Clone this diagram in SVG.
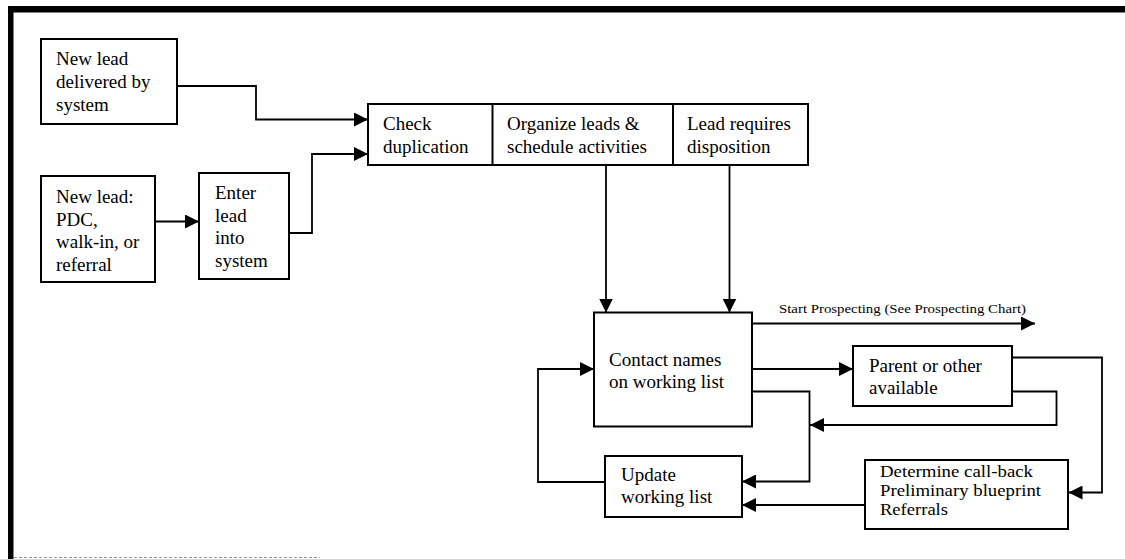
<svg xmlns="http://www.w3.org/2000/svg" width="1125" height="559" viewBox="0 0 1125 559">
  <style>
    .box { fill: #ffffff; stroke: #000000; stroke-width: 2; }
    .div { stroke: #000000; stroke-width: 2; }
    .lbl { font-family: "Liberation Serif", "Times New Roman", serif; font-size: 19px; fill: #000000; }
    .tight { font-family: "Liberation Serif", "Times New Roman", serif; font-size: 17px; fill: #000000; }
    .small { font-family: "Liberation Serif", "Times New Roman", serif; font-size: 13.5px; fill: #000000; }
    .conn { fill: none; stroke: #000000; stroke-width: 1.8; marker-end: url(#arrow); }
  </style>
  <defs>
    <marker id="arrow" markerUnits="userSpaceOnUse" markerWidth="14" markerHeight="14" refX="14" refY="7" orient="auto" viewBox="0 0 14 14">
      <path d="M0,0 L14,7 L0,14 Z" fill="#000000"/>
    </marker>
  </defs>

  <rect width="1125" height="559" fill="#ffffff"/>

  <!-- page frame -->
  <g id="frame">
    <rect x="8" y="6" width="1117" height="6.5" fill="#000000"/>
    <rect x="8" y="6" width="5.5" height="553" fill="#000000"/>
    <line x1="14" y1="557.5" x2="320" y2="557.5" stroke="#9a9a9a" stroke-width="1" stroke-dasharray="3 2"/>
  </g>

  <!-- connectors -->
  <g id="connectors">
    <path class="conn" d="M177,86 H256 V119.5 H368"/>
    <path class="conn" d="M289,233 H312 V154 H368"/>
    <path class="conn" d="M155,221.5 H199"/>
    <path class="conn" d="M606,165 V312.5"/>
    <path class="conn" d="M729.5,165 V312.5"/>
    <path class="conn" d="M752,323.5 H1035"/>
    <path class="conn" d="M752,369 H853"/>
    <path class="conn" d="M1011.5,357.5 H1102 V492.5 H1068.5"/>
    <path class="conn" d="M1011.5,391.5 H1056.5 V425 H810"/>
    <path class="conn" d="M752,391.5 H809.5 V481.5 H742"/>
    <path class="conn" d="M865,505 H742"/>
    <path class="conn" d="M605,482 H538 V369 H594"/>
    <text class="small" x="779" y="312.5" textLength="247" lengthAdjust="spacingAndGlyphs">Start Prospecting (See Prospecting Chart)</text>
  </g>

  <g id="node-new-lead-system">
    <rect class="box" x="41" y="39" width="136" height="85"/>
    <text class="lbl" x="56" y="65">New lead</text>
    <text class="lbl" x="56" y="88">delivered by</text>
    <text class="lbl" x="56" y="111">system</text>
  </g>

  <g id="node-new-lead-manual">
    <rect class="box" x="41" y="176" width="114" height="106"/>
    <text class="lbl" x="56" y="203">New lead:</text>
    <text class="lbl" x="56" y="225.5">PDC,</text>
    <text class="lbl" x="56" y="248">walk-in, or</text>
    <text class="lbl" x="56" y="270.5">referral</text>
  </g>

  <g id="node-enter-lead">
    <rect class="box" x="199" y="173" width="90" height="106"/>
    <text class="lbl" x="215" y="199">Enter</text>
    <text class="lbl" x="215" y="221.5">lead</text>
    <text class="lbl" x="215" y="244">into</text>
    <text class="lbl" x="215" y="266.5">system</text>
  </g>

  <g id="node-processing-row">
    <rect class="box" x="368" y="104" width="440" height="61"/>
    <line class="div" x1="492.5" y1="104" x2="492.5" y2="165"/>
    <line class="div" x1="673" y1="104" x2="673" y2="165"/>
    <text class="lbl" x="383" y="130">Check</text>
    <text class="lbl" x="383" y="152.5">duplication</text>
    <text class="lbl" x="507" y="130">Organize leads &amp;</text>
    <text class="lbl" x="507" y="152.5">schedule activities</text>
    <text class="lbl" x="687" y="130">Lead requires</text>
    <text class="lbl" x="687" y="152.5">disposition</text>
  </g>

  <g id="node-contact-names">
    <rect class="box" x="594" y="312.5" width="158" height="114"/>
    <text class="lbl" x="609" y="366">Contact names</text>
    <text class="lbl" x="609" y="388">on working list</text>
  </g>

  <g id="node-parent-available">
    <rect class="box" x="853" y="346" width="159" height="60"/>
    <text class="lbl" x="869" y="371.5">Parent or other</text>
    <text class="lbl" x="869" y="393.5">available</text>
  </g>

  <g id="node-update-list">
    <rect class="box" x="605" y="456" width="137" height="61"/>
    <text class="lbl" x="621" y="480.5">Update</text>
    <text class="lbl" x="621" y="503">working list</text>
  </g>

  <g id="node-determine">
    <rect class="box" x="865" y="460" width="203" height="69"/>
    <text class="tight" x="880" y="477" textLength="153" lengthAdjust="spacingAndGlyphs">Determine call-back</text>
    <text class="tight" x="880" y="496" textLength="161" lengthAdjust="spacingAndGlyphs">Preliminary blueprint</text>
    <text class="tight" x="880" y="515" textLength="68" lengthAdjust="spacingAndGlyphs">Referrals</text>
  </g>
</svg>
